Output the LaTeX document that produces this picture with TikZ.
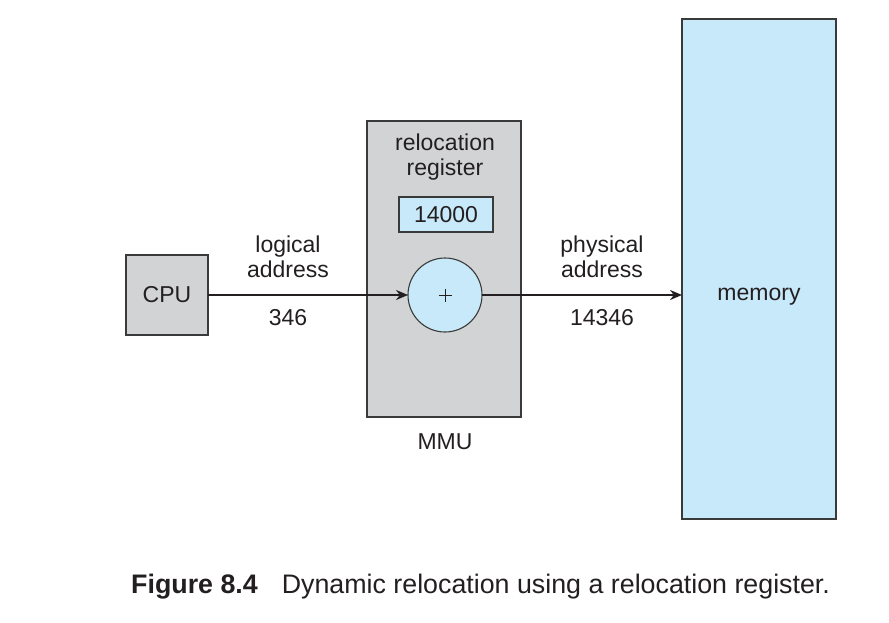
\documentclass[tikz,border=0pt]{standalone}
\usepackage{fontspec}
\setmainfont{Liberation Sans}
\usetikzlibrary{arrows.meta}
\definecolor{boxgray}{HTML}{D1D3D4}
\definecolor{boxblue}{HTML}{C8E9F9}
\definecolor{edge}{HTML}{3A3A3A}
\definecolor{ink}{HTML}{231F20}
\begin{document}
\begin{tikzpicture}[x=1pt,y=-1pt,
  every node/.style={text=ink, font=\fontsize{23}{26}\selectfont},
  boxstyle/.style={draw=edge, line width=1.1pt, inner sep=0pt, outer sep=0pt},
  graybox/.style={boxstyle, fill=boxgray},
  bluebox/.style={boxstyle, fill=boxblue},
  conn/.style={draw=ink, line width=2.4pt, -{Stealth[length=12pt,width=10pt]}},
  lbl/.style={align=center, inner sep=0pt}]
\useasboundingbox (0,0) rectangle (889,622);
% boxes
\node[graybox, minimum width=82, minimum height=80] (cpu) at (167,295) {CPU};
\node[graybox, minimum width=154, minimum height=296] (mmu) at (444,269) {};
\node[bluebox, minimum width=154, minimum height=500] (mem) at (759,269) {};
\node[lbl] (memlbl) at (759,297) {memory};
\node[bluebox, minimum width=94, minimum height=35] (reg) at (446,214.5) {14000};
\node[bluebox, circle, minimum size=74] (add) at (445,295) {};
\draw[draw=ink, line width=0.6pt] (add.center) +(-6.5,0) -- +(6.5,0);
\draw[draw=ink, line width=0.6pt] (add.center) +(0,-6.5) -- +(0,6.5);
% labels
\node[lbl] (rr) at (445,157) {relocation\\[-1pt]register};
\node[lbl] (mmulbl) at (445,442) {MMU};
\node[lbl] (la) at (288,257) {logical\\[-1pt]address};
\node[lbl] (lv) at (288,318) {346};
\node[lbl] (pa) at (602,257) {physical\\[-1pt]address};
\node[lbl] (pv) at (602,318) {14346};
% connectors
\draw[conn, line width=2.4pt] (cpu.east) -- (add.west);
\draw[conn, line width=2.4pt] (add.east) -- (add.east -| mem.west);
% caption
\node[anchor=base west, inner sep=0pt, font=\fontsize{26.8}{30}\selectfont] (cap) at (131,593)
  {\textbf{Figure 8.4}\hspace{24pt}Dynamic relocation using a relocation register.};
\end{tikzpicture}
\end{document}
